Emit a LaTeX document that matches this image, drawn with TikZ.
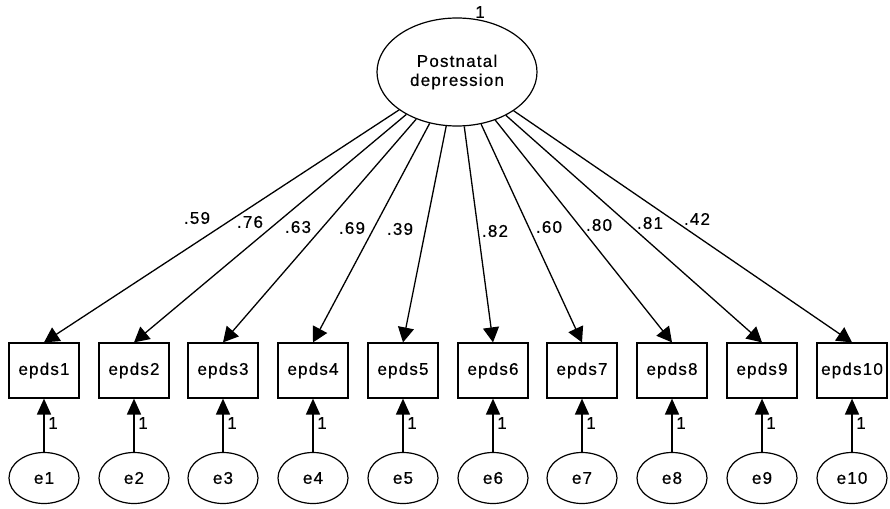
\documentclass[tikz,border=0pt]{standalone}
\usepackage{fontspec}
\setmainfont{Liberation Sans}[LetterSpace=7,FakeBold=0.6]
\usetikzlibrary{arrows.meta,shapes.geometric}
\begin{document}
\begin{tikzpicture}[x=1pt,y=-1pt,
  fnt/.style={font=\fontsize{17}{19}\selectfont},
  obs/.style={draw,line width=1.2pt,minimum width=70pt,minimum height=55pt,inner sep=0pt,fnt},
  err/.style={draw,ellipse,line width=1.2pt,minimum width=70pt,minimum height=51pt,inner sep=0pt,fnt},
  lat/.style={draw,ellipse,line width=1.2pt,minimum width=160pt,minimum height=108pt,inner sep=0pt,align=center,fnt},
  load/.style={line width=1.3pt,-{Triangle[length=15pt,width=16pt]}},
  eload/.style={line width=1.7pt,-{Triangle[length=16pt,width=14pt]}},
  lab/.style={fnt,inner sep=0pt}
]
\useasboundingbox (0,0) rectangle (890,508);
\node[lat] (F) at (457,72) {Postnatal\\depression};
\node[lab] (F1) at (480,12) {1};
\foreach \i/\x in {1/44,2/134,3/223,4/313,5/403,6/493,7/582,8/672,9/762,10/852}{
  \node[obs] (b\i) at (\x,370.5) {epds\i};
  \node[err] (e\i) at (\x,478) {e\i};
  \draw[load] (F) -- (b\i.north);
  \draw[eload] (e\i) -- (b\i);
  \node[lab] (l\i) at (\x+9,423) {1};
}
\foreach \i/\v/\x/\y in {1/.59/197/218,2/.76/250/222,3/.63/298/227,4/.69/352/228,5/.39/400/229,6/.82/495/231,7/.60/549/227,8/.80/599/225,9/.81/650/223,10/.42/697/219}{
  \node[lab] (c\i) at (\x,\y) {\v};
}
\end{tikzpicture}
\end{document}
